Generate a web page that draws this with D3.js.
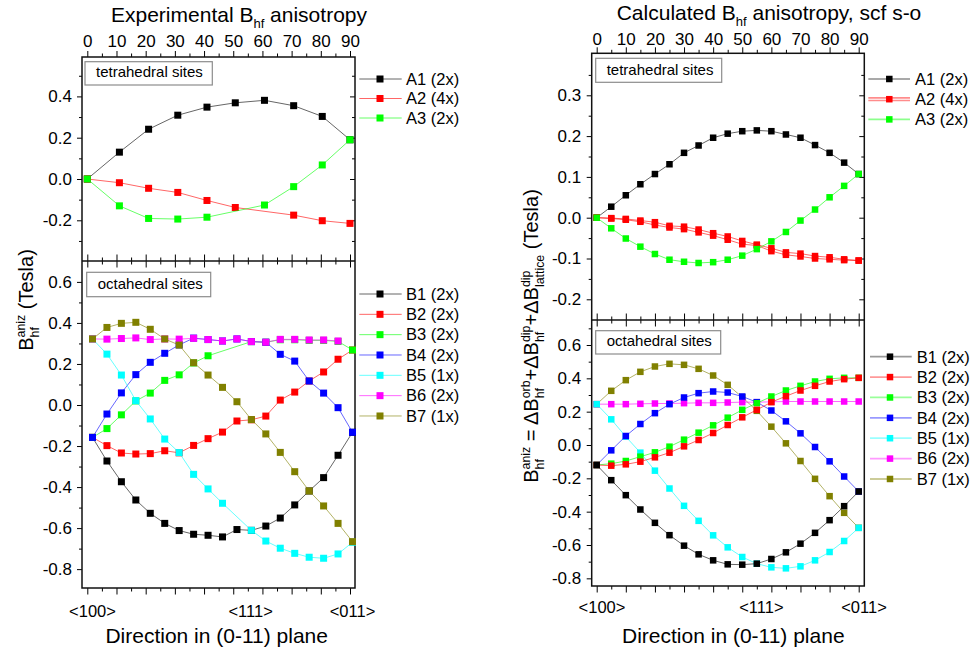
<!DOCTYPE html>
<html>
<head>
<meta charset="utf-8">
<script src="https://cdn.jsdelivr.net/npm/d3@7"></script>
<style>
  html, body { margin: 0; padding: 0; background: #fff; }
  svg { display: block; }
</style>
</head>
<body>
<svg id="chart" width="973" height="655"></svg>
<script>
// ---------- data ----------
// angle grid (degrees from <100> towards <011>)
const angle5 = [0, 5, 10, 15, 20, 25, 30, 35, 40, 45, 50, 55, 60, 65, 70, 75, 80, 85, 90];
const expTetAngle = [0, 11, 21, 31, 41, 50.7, 60.7, 70.7, 80.5, 90];

// experimental, tetrahedral sites
const expA1 = [0, 0.130, 0.241, 0.309, 0.348, 0.369, 0.381, 0.355, 0.303, 0.190];
const expA2 = [0, -0.018, -0.045, -0.065, -0.104, -0.138, null, -0.175, -0.202, -0.215];
const expA3 = [0, -0.130, -0.191, -0.194, -0.185, null, -0.126, -0.037, 0.068, 0.190];

// experimental, octahedral sites
const expB1 = [-0.158, -0.273, -0.374, -0.463, -0.528, -0.577, -0.612, -0.630, -0.635, -0.643, -0.607, -0.611, -0.590, -0.551, -0.487, -0.419, -0.354, -0.245, -0.133];
const expB2 = [-0.158, -0.198, -0.234, -0.239, -0.237, -0.223, -0.233, -0.197, -0.164, -0.132, -0.078, -0.072, -0.054, 0.024, 0.063, 0.117, 0.161, 0.223, 0.268];
const expB3 = [-0.158, -0.115, -0.048, 0.020, 0.058, 0.120, 0.147, 0.205, 0.240, null, null, 0.309, 0.306, 0.318, 0.318, 0.315, 0.315, 0.310, 0.268];
const expB4 = [-0.158, -0.044, 0.059, 0.148, 0.208, 0.252, 0.293, 0.326, 0.319, 0.312, 0.322, 0.309, 0.306, 0.247, 0.214, 0.117, 0.058, -0.013, -0.133];
const expB5 = [0.322, 0.248, 0.146, 0.021, -0.068, -0.166, -0.232, -0.338, -0.409, -0.479, null, -0.611, -0.663, -0.698, -0.723, -0.742, -0.747, -0.726, -0.669];
const expB6 = [0.322, 0.321, 0.324, 0.327, 0.319, 0.322, 0.321, 0.325, 0.319, 0.312, 0.322, 0.309, 0.306, 0.320, 0.320, 0.317, 0.317, 0.312, null];
const expB7 = [0.322, 0.378, 0.398, 0.403, 0.369, 0.322, 0.292, 0.206, 0.146, 0.086, 0.016, -0.071, -0.141, -0.231, -0.325, -0.419, -0.492, -0.577, -0.666];

// calculated, tetrahedral sites (A2 holds four sites, drawn as two nearly equal curves)
const calcA1 = [0, 0.027, 0.055, 0.082, 0.107, 0.131, 0.159, 0.177, 0.196, 0.206, 0.212, 0.214, 0.212, 0.204, 0.196, 0.178, 0.159, 0.135, 0.107];
const calcA2a = [0, -0.001, -0.003, -0.007, -0.011, -0.020, -0.022, -0.029, -0.038, -0.046, -0.057, -0.066, -0.075, -0.085, -0.088, -0.094, -0.097, -0.102, -0.105];
const calcA2b = [0, -0.002, -0.005, -0.010, -0.018, -0.024, -0.028, -0.036, -0.044, -0.054, -0.065, -0.068, -0.082, -0.091, -0.095, -0.100, -0.102, -0.104, -0.105];
const calcA3 = [0, -0.026, -0.051, -0.071, -0.089, -0.103, -0.108, -0.111, -0.109, -0.103, -0.093, -0.077, -0.058, -0.035, -0.007, 0.020, 0.050, 0.078, 0.107];

// calculated, octahedral sites
const calcB1 = [-0.120, -0.211, -0.301, -0.387, -0.467, -0.541, -0.604, -0.656, -0.692, -0.716, -0.718, -0.712, -0.684, -0.644, -0.592, -0.527, -0.451, -0.367, -0.279];
const calcB2 = [-0.120, -0.124, -0.116, -0.100, -0.074, -0.046, -0.008, 0.030, 0.072, 0.120, 0.166, 0.211, 0.257, 0.293, 0.327, 0.355, 0.381, 0.395, 0.403];
const calcB3 = [-0.120, -0.112, -0.096, -0.070, -0.044, -0.010, 0.032, 0.074, 0.118, 0.164, 0.211, 0.251, 0.291, 0.327, 0.355, 0.381, 0.397, 0.403, 0.403];
const calcB4 = [-0.120, -0.032, 0.054, 0.126, 0.191, 0.245, 0.285, 0.311, 0.321, 0.315, 0.291, 0.257, 0.207, 0.142, 0.070, -0.012, -0.098, -0.189, -0.279];
const calcB5 = [0.245, 0.154, 0.050, -0.046, -0.154, -0.261, -0.365, -0.455, -0.542, -0.614, -0.672, -0.712, -0.734, -0.740, -0.728, -0.692, -0.642, -0.576, -0.497];
const calcB6 = [0.245, 0.245, 0.245, 0.247, 0.249, 0.249, 0.251, 0.253, 0.253, 0.255, 0.257, 0.257, 0.259, 0.261, 0.261, 0.261, 0.261, 0.261, 0.261];
const calcB7 = [0.245, 0.325, 0.389, 0.439, 0.471, 0.487, 0.481, 0.457, 0.417, 0.361, 0.287, 0.205, 0.110, 0.010, -0.096, -0.203, -0.307, -0.407, -0.497];

// legend names and colours
const tetNames = ['A1 (2x)', 'A2 (4x)', 'A3 (2x)'];
const octNames = ['B1 (2x)', 'B2 (2x)', 'B3 (2x)', 'B4 (2x)', 'B5 (1x)', 'B6 (2x)', 'B7 (1x)'];
const tetColors = ['#000000', '#ff0000', '#00ff00'];
const octColors = ['#000000', '#ff0000', '#00ff00', '#0000ff', '#00ffff', '#ff00ff', '#808000'];

// axis ticks and direction labels
const angleMajor = [0, 10, 20, 30, 40, 50, 60, 70, 80, 90];
const angleMinor = [5, 15, 25, 35, 45, 55, 65, 75, 85];
const dirTicks = [0, 54.74, 90];
const dirLabels = ['<100>', '<111>', '<011>'];
const expTetMajor = [-0.2, 0, 0.2, 0.4];
const expTetMinor = [-0.3, -0.1, 0.1, 0.3, 0.5];
const octMajor = [-0.8, -0.6, -0.4, -0.2, 0, 0.2, 0.4, 0.6];
const expOctMinor = [-0.7, -0.5, -0.3, -0.1, 0.1, 0.3, 0.5];
const calcOctMinor = [-0.7, -0.5, -0.3, -0.1, 0.1, 0.3, 0.5, 0.7];
const calcTetMajor = [-0.2, -0.1, 0, 0.1, 0.2, 0.3];
const calcTetMinor = [-0.15, -0.05, 0.05, 0.15, 0.25, 0.35];

// ---------- drawing ----------
const FONT = "'Liberation Sans', Arial, Helvetica, sans-serif";
const TICK_FONT = 17;
const svg = d3.select('#chart');
const fmt = d => d.toFixed(1);

function axis(g, orient, scale, pos, values, size, labels, pad) {
  const gen = orient === 'top' ? d3.axisTop(scale) : orient === 'bottom' ? d3.axisBottom(scale)
            : orient === 'left' ? d3.axisLeft(scale) : d3.axisRight(scale);
  gen.tickValues(values).tickSizeOuter(0).tickSizeInner(size).tickPadding(pad == null ? 3 : pad)
     .tickFormat(labels ? labels : () => '');
  const tr = (orient === 'top' || orient === 'bottom') ? `translate(0,${pos})` : `translate(${pos},0)`;
  const a = g.append('g').attr('transform', tr).call(gen);
  a.attr('font-family', FONT).attr('font-size', TICK_FONT);
  a.select('.domain').remove();
  a.selectAll('.tick line').attr('stroke', '#000').attr('stroke-width', 1);
  a.selectAll('.tick text').attr('fill', '#000');
  return a;
}

// text with sub/superscripts; segments are strings or {sup, sub} stacks
function rich(parent, segs, size) {
  const g = parent.append('g').attr('font-family', FONT).attr('fill', '#000');
  const small = size * 0.62;
  let x = 0;
  segs.forEach(s => {
    if (typeof s === 'string') {
      const t = g.append('text').attr('x', x).attr('y', 0).attr('font-size', size)
        .style('white-space', 'pre').text(s);
      x += t.node().getComputedTextLength();
    } else {
      let w = 0;
      if (s.sup) {
        const t = g.append('text').attr('x', x).attr('y', -size * 0.42).attr('font-size', small)
          .style('white-space', 'pre').text(s.sup);
        w = Math.max(w, t.node().getComputedTextLength());
      }
      if (s.sub) {
        const t = g.append('text').attr('x', x).attr('y', size * 0.3).attr('font-size', small)
          .style('white-space', 'pre').text(s.sub);
        w = Math.max(w, t.node().getComputedTextLength());
      }
      x += w;
    }
  });
  return { g, w: x };
}

function drawSeries(g, list, xs, ys, ms) {
  list.forEach(s => {
    s.ys.forEach(vals => {
      const pts = s.x.map((a, i) => [a, vals[i]]).filter(p => p[1] != null);
      g.append('path')
        .attr('d', d3.line().x(p => xs(p[0])).y(p => ys(p[1]))(pts))
        .attr('fill', 'none').attr('stroke', s.color)
        .attr('stroke-width', 1).attr('stroke-opacity', 0.6);
      g.selectAll(null).data(pts).join('rect')
        .attr('x', p => xs(p[0]) - ms / 2).attr('y', p => ys(p[1]) - ms / 2)
        .attr('width', ms).attr('height', ms).attr('fill', s.color);
    });
  });
}

function drawLegend(g, list, L, ms) {
  list.forEach((s, i) => {
    const y = L.y0 + i * L.dy;
    const offs = s.ys.length > 1 ? [-1.3, 1.3] : [0];
    offs.forEach(o => {
      g.append('line').attr('x1', L.x0).attr('x2', L.x1).attr('y1', y + o).attr('y2', y + o)
        .attr('stroke', s.color).attr('stroke-width', L.w).attr('stroke-opacity', L.op);
    });
    g.append('rect').attr('x', L.xm - ms / 2).attr('y', y - ms / 2).attr('width', ms).attr('height', ms)
      .attr('fill', s.color);
    g.append('text').attr('x', L.xt).attr('y', y + 5.8).attr('font-family', FONT).attr('font-size', 16.5)
      .attr('fill', '#000').text(s.name);
  });
}

function insetLabel(g, box, text) {
  g.append('rect').attr('x', box.x).attr('y', box.y).attr('width', box.w).attr('height', box.h)
    .attr('fill', '#fff').attr('stroke', '#8c8c8c').attr('stroke-width', 1.2);
  g.append('text').attr('x', box.x + 11).attr('y', box.y + box.h - 7.6)
    .attr('font-family', FONT).attr('font-size', 15).attr('fill', '#000').text(text);
}

function buildSeries(names, colors, xArr, valueLists) {
  return names.map((n, i) => ({ name: n, color: colors[i], x: xArr, ys: valueLists[i] }));
}

// ===== Left figure: experimental =====
(function () {
  const F = { x0: 82, x1: 355, y0: 57, ym: 261, y1: 588 };
  const xTick = d3.scaleLinear().domain([0, 90]).range([87.3, 350]);
  const xOct = d3.scaleLinear().domain([0, 90]).range([92.5, 352.5]);
  const yTet = d3.scaleLinear().domain([0, 0.4]).range([179, 96.4]);
  const yOct = d3.scaleLinear().domain([0, 0.6]).range([405, 281.9]);
  const g = svg.append('g');

  // ticks
  axis(g, 'top', xTick, F.y0, angleMajor, 6, d => String(d), 4.5);
  axis(g, 'top', xTick, F.y0, angleMinor, 3.5);
  axis(g, 'top', xTick, F.ym, angleMajor, 6.5);
  axis(g, 'bottom', xTick, F.ym, angleMajor, 6.5);
  axis(g, 'top', xTick, F.ym, angleMinor, 3.5);
  axis(g, 'bottom', xTick, F.ym, angleMinor, 3.5);
  axis(g, 'bottom', xTick, F.y1, angleMajor, 6.5);
  axis(g, 'bottom', xTick, F.y1, angleMinor, 3.5);
  axis(g, 'left', yTet, F.x0, expTetMajor, 5, fmt, 5);
  axis(g, 'left', yTet, F.x0, expTetMinor, 3);
  axis(g, 'left', yTet, F.x1, expTetMajor, 5);
  axis(g, 'left', yTet, F.x1, expTetMinor, 3);
  axis(g, 'left', yOct, F.x0, octMajor, 5, fmt, 5);
  axis(g, 'left', yOct, F.x0, expOctMinor, 3);

  // frame
  g.append('rect').attr('x', F.x0).attr('y', F.y0).attr('width', F.x1 - F.x0).attr('height', F.y1 - F.y0)
    .attr('fill', 'none').attr('stroke', '#111').attr('stroke-width', 1.5);
  g.append('line').attr('x1', F.x0).attr('x2', F.x1).attr('y1', F.ym).attr('y2', F.ym)
    .attr('stroke', '#111').attr('stroke-width', 1.5);

  insetLabel(g, { x: 85, y: 61.7, w: 127.3, h: 23.3 }, 'tetrahedral sites');
  insetLabel(g, { x: 86.7, y: 272.3, w: 124, h: 24.4 }, 'octahedral sites');

  const tet = buildSeries(tetNames, tetColors, expTetAngle, [[expA1], [expA2], [expA3]]);
  const oct = buildSeries(octNames, octColors, angle5, [[expB1], [expB2], [expB3], [expB4], [expB5], [expB6], [expB7]]);
  drawSeries(g, tet, xTick, yTet, 7);
  drawSeries(g, oct, xOct, yOct, 7);

  drawLegend(g, tet, { y0: 79, dy: 19.5, x0: 359.3, x1: 401.7, xm: 380, xt: 406, w: 1, op: 0.6 }, 7);
  drawLegend(g, oct, { y0: 294, dy: 20.33, x0: 359.3, x1: 401.7, xm: 380, xt: 406, w: 1, op: 0.6 }, 7);

  // direction labels
  g.selectAll(null).data(dirTicks).join('text')
    .attr('x', d => xOct(d)).attr('y', 617).attr('text-anchor', 'middle')
    .attr('font-family', FONT).attr('font-size', 16.5).attr('fill', '#000')
    .text((d, i) => dirLabels[i]);

  g.append('text').attr('x', 216.7).attr('y', 643).attr('text-anchor', 'middle')
    .attr('font-family', FONT).attr('font-size', 21).attr('fill', '#000')
    .text('Direction in (0-11) plane');

  const title = rich(g, ['Experimental B', { sub: 'hf' }, ' anisotropy'], 21);
  title.g.attr('transform', `translate(${239 - title.w / 2},22)`);

  const yl = rich(g, ['B', { sup: 'aniz', sub: 'hf' }, ' (Tesla)'], 20);
  yl.g.attr('transform', `translate(33,300) rotate(-90) translate(${-yl.w / 2},0)`);
})();

// ===== Right figure: calculated =====
(function () {
  const F = { x0: 591.7, x1: 864.3, y0: 53.3, ym: 320, y1: 586 };
  const x = d3.scaleLinear().domain([0, 90]).range([596.7, 858.7]);
  const yTet = d3.scaleLinear().domain([0, 0.3]).range([217.7, 95.3]);
  const yOct = d3.scaleLinear().domain([0, 0.6]).range([445, 345]);
  const g = svg.append('g');

  axis(g, 'top', x, F.y0, angleMajor, 6, d => String(d), 2.5);
  axis(g, 'top', x, F.y0, angleMinor, 3.5);
  axis(g, 'top', x, F.ym, angleMajor, 6.5);
  axis(g, 'bottom', x, F.ym, angleMajor, 6.5);
  axis(g, 'top', x, F.ym, angleMinor, 3.5);
  axis(g, 'bottom', x, F.ym, angleMinor, 3.5);
  axis(g, 'bottom', x, F.y1, angleMajor, 6.5);
  axis(g, 'bottom', x, F.y1, angleMinor, 3.5);
  axis(g, 'left', yTet, F.x0, calcTetMajor, 5, fmt, 5.5);
  axis(g, 'left', yTet, F.x0, calcTetMinor, 3);
  axis(g, 'left', yTet, F.x1, calcTetMajor, 5);
  axis(g, 'left', yTet, F.x1, calcTetMinor, 3);
  axis(g, 'left', yOct, F.x0, octMajor, 5, fmt, 5.5);
  axis(g, 'left', yOct, F.x0, calcOctMinor, 3);

  g.append('rect').attr('x', F.x0).attr('y', F.y0).attr('width', F.x1 - F.x0).attr('height', F.y1 - F.y0)
    .attr('fill', 'none').attr('stroke', '#111').attr('stroke-width', 1.5);
  g.append('line').attr('x1', F.x0).attr('x2', F.x1).attr('y1', F.ym).attr('y2', F.ym)
    .attr('stroke', '#111').attr('stroke-width', 1.5);

  insetLabel(g, { x: 595.7, y: 58.3, w: 126, h: 24 }, 'tetrahedral sites');
  insetLabel(g, { x: 595.7, y: 330.7, w: 125, h: 23.3 }, 'octahedral sites');

  const tet = buildSeries(tetNames, tetColors, angle5, [[calcA1], [calcA2a, calcA2b], [calcA3]]);
  const oct = buildSeries(octNames, octColors, angle5, [[calcB1], [calcB2], [calcB3], [calcB4], [calcB5], [calcB6], [calcB7]]);
  drawSeries(g, tet, x, yTet, 6.5);
  // octahedral curves are stacked with B1 on top
  drawSeries(g, oct.slice().reverse(), x, yOct, 6.5);

  drawLegend(g, tet, { y0: 79, dy: 20.2, x0: 868.3, x1: 910, xm: 889.3, xt: 915, w: 1.6, op: 0.45 }, 6.5);
  drawLegend(g, oct, { y0: 356.7, dy: 20.38, x0: 870, x1: 911.7, xm: 890, xt: 916.7, w: 1.8, op: 0.4 }, 6.5);

  g.selectAll(null).data(dirTicks).join('text')
    .attr('x', d => x(d) + 5.3).attr('y', 613.3).attr('text-anchor', 'middle')
    .attr('font-family', FONT).attr('font-size', 16.5).attr('fill', '#000')
    .text((d, i) => dirLabels[i]);

  g.append('text').attr('x', 733.3).attr('y', 643).attr('text-anchor', 'middle')
    .attr('font-family', FONT).attr('font-size', 21).attr('fill', '#000')
    .text('Direction in (0-11) plane');

  const title = rich(g, ['Calculated B', { sub: 'hf' }, ' anisotropy, scf s-o'], 21);
  title.g.attr('transform', `translate(${769 - title.w / 2},20)`);

  const yl = rich(g, ['B', { sup: 'aniz', sub: 'hf' }, ' = \u0394B', { sup: 'orb', sub: 'hf' },
    '+\u0394B', { sup: 'dip', sub: 'hf' }, '+\u0394B', { sup: 'dip', sub: 'lattice' }, ' (Tesla)'], 20);
  yl.g.attr('transform', `translate(538,336) rotate(-90) translate(${-yl.w / 2},0)`);
})();
</script>
</body>
</html>
